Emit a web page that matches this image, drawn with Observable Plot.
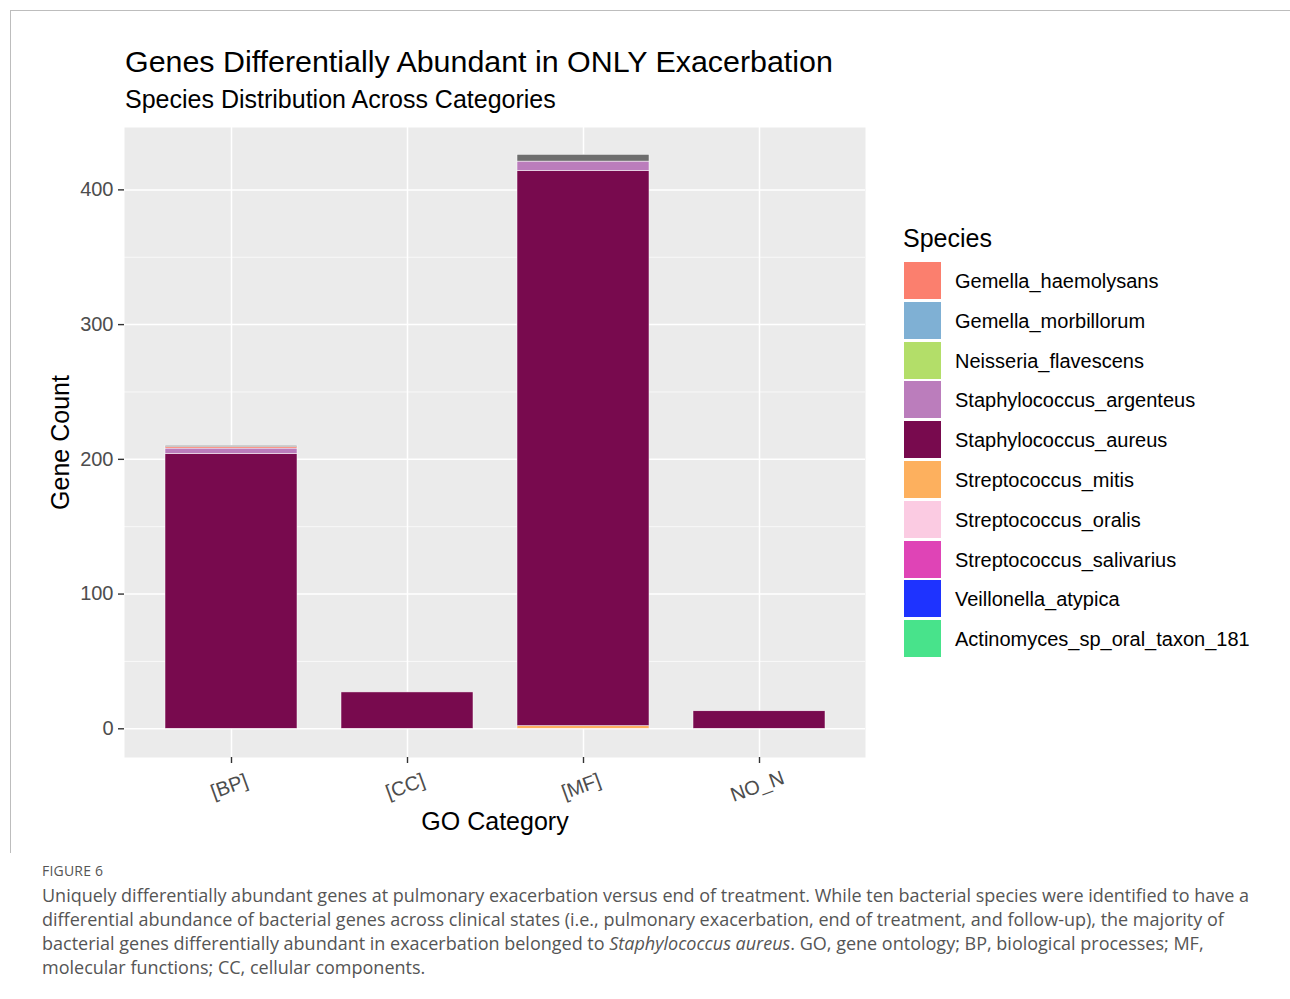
<!DOCTYPE html>
<html>
<head>
<meta charset="utf-8">
<script src="https://cdn.jsdelivr.net/npm/d3@7"></script>
<script src="https://cdn.jsdelivr.net/npm/@observablehq/plot@0.6"></script>
<style>
  html, body { margin: 0; padding: 0; background: #fff; }
  body { width: 1290px; height: 999px; position: relative; overflow: hidden; font-family: "Liberation Sans", Arial, sans-serif; }
  .frame { position: absolute; left: 10px; top: 10px; width: 1290px; height: 842px; border-top: 1px solid #bdbdbd; border-left: 1px solid #bdbdbd; }
  .title { position: absolute; left: 125px; top: 46px; font-size: 30.4px; line-height: 30px; color: #000; white-space: nowrap; }
  .subtitle { position: absolute; left: 125px; top: 87px; font-size: 25px; line-height: 25px; color: #000; white-space: nowrap; }
  #chart { position: absolute; left: 0; top: 117px; }
  #legend { position: absolute; left: 903px; top: 226px; }
  #legend .ltitle { font-size: 25px; line-height: 25px; height: 36px; color: #000; }
  #legend .row { position: relative; height: 39.8px; }
  #legend .sw { position: absolute; left: 1px; top: 0; width: 37px; height: 37px; }
  #legend .lab { position: absolute; left: 52px; top: 1px; height: 37px; line-height: 37px; font-size: 20px; color: #000; white-space: nowrap; }
  .figlabel { position: absolute; left: 42px; top: 861px; font-family: "Open Sans", "Noto Sans", sans-serif; font-size: 14px; color: #555; letter-spacing: 0.2px; }
  .caption { position: absolute; left: 42px; top: 883px; font-family: "Open Sans", "Noto Sans", sans-serif; font-size: 18px; line-height: 24px; color: #555; white-space: nowrap; }
</style>
</head>
<body>
<div class="frame"></div>
<div class="title">Genes Differentially Abundant in ONLY Exacerbation</div>
<div class="subtitle">Species Distribution Across Categories</div>
<div id="chart"></div>
<div id="legend"></div>
<div class="figlabel">FIGURE 6</div>
<div class="caption">Uniquely differentially abundant genes at pulmonary exacerbation versus end of treatment. While ten bacterial species were identified to have a<br>differential abundance of bacterial genes across clinical states (i.e., pulmonary exacerbation, end of treatment, and follow-up), the majority of<br>bacterial genes differentially abundant in exacerbation belonged to <i>Staphylococcus aureus</i>. GO, gene ontology; BP, biological processes; MF,<br>molecular functions; CC, cellular components.</div>
<script>
// ---- data ----
const categories = ["[BP]", "[CC]", "[MF]", "NO_N"];
const species = [
  "Gemella_haemolysans", "Gemella_morbillorum", "Neisseria_flavescens",
  "Staphylococcus_argenteus", "Staphylococcus_aureus", "Streptococcus_mitis",
  "Streptococcus_oralis", "Streptococcus_salivarius", "Veillonella_atypica",
  "Actinomyces_sp_oral_taxon_181"
];
const speciesColors = [
  "#FB7F6E", "#7FB0D4", "#B3DE69", "#BB7DBC", "#780A4E",
  "#FDB05E", "#FBCBE2", "#DF44B6", "#1E33FF", "#48E38B"
];
const unassignedName = "Unassigned";
const unassignedColor = "#6E6E6E";

// counts per category, in order of categories
const countHaemolysans = [1, 0, 0, 0];
const countArgenteus   = [4, 0, 7, 0];
const countAureus      = [204, 27, 412, 13];
const countMitis       = [0, 0, 2, 0];
const countUnassigned  = [1, 0, 5, 0];

// bottom-to-top stacking
const stackOrder = ["Streptococcus_mitis", "Staphylococcus_aureus", "Staphylococcus_argenteus", "Gemella_haemolysans", unassignedName];
const seriesCounts = {
  "Streptococcus_mitis": countMitis,
  "Staphylococcus_aureus": countAureus,
  "Staphylococcus_argenteus": countArgenteus,
  "Gemella_haemolysans": countHaemolysans,
  [unassignedName]: countUnassigned
};

const yTicks = [0, 100, 200, 300, 400];
const yMinor = [50, 150, 250, 350];
const yDomain = [-21.3, 446.3];

const rows = [];
for (const s of stackOrder) {
  seriesCounts[s].forEach((v, i) => { if (v > 0) rows.push({category: categories[i], species: s, count: v}); });
}

const chart = Plot.plot({
  width: 880,
  height: 728,
  marginTop: 10,
  marginBottom: 88,
  marginLeft: 124,
  marginRight: 15,
  style: {fontFamily: "Liberation Sans, Arial, sans-serif", fontSize: "20px", background: "transparent", overflow: "visible"},
  x: {type: "band", domain: categories, paddingInner: 0.25, paddingOuter: 0.225, align: 0.5, label: null},
  y: {domain: yDomain, label: null},
  color: {domain: [...species, unassignedName], range: [...speciesColors, unassignedColor]},
  marks: [
    Plot.frame({fill: "#EBEBEB", stroke: null}),
    Plot.ruleY(yMinor, {stroke: "#fff", strokeWidth: 0.7}),
    Plot.ruleY(yTicks, {stroke: "#fff", strokeWidth: 1.5}),
    Plot.ruleX(categories, {x: d => d, stroke: "#fff", strokeWidth: 1.5}),
    Plot.barY(rows, {x: "category", y: "count", fill: "species", order: stackOrder, stroke: "#fff", strokeWidth: 0.5}),
    Plot.axisY(yTicks, {tickSize: 6, tickPadding: 5, stroke: "#333", strokeWidth: 1.4, fill: "#4D4D4D", fontSize: 20, label: null}),
    Plot.axisX({tickSize: 6, tickFormat: () => "", stroke: "#333", strokeWidth: 1.4, label: null}),
    Plot.text(categories, {x: d => d, text: d => d, frameAnchor: "bottom", dy: 35, rotate: -20, textAnchor: "middle", fontSize: 20, fill: "#4D4D4D"}),
    Plot.text(["Gene Count"], {frameAnchor: "left", dx: -64, rotate: -90, textAnchor: "middle", fontSize: 25, fill: "#000"}),
    Plot.text(["GO Category"], {frameAnchor: "bottom", dy: 72, textAnchor: "middle", fontSize: 25, fill: "#000"})
  ]
});
document.getElementById("chart").appendChild(chart);

// legend
const legend = document.getElementById("legend");
const lt = document.createElement("div");
lt.className = "ltitle";
lt.textContent = "Species";
legend.appendChild(lt);
species.forEach((s, i) => {
  const row = document.createElement("div");
  row.className = "row";
  const sw = document.createElement("div");
  sw.className = "sw";
  sw.style.background = speciesColors[i];
  const lab = document.createElement("div");
  lab.className = "lab";
  lab.textContent = s;
  row.appendChild(sw);
  row.appendChild(lab);
  legend.appendChild(row);
});
</script>
</body>
</html>
